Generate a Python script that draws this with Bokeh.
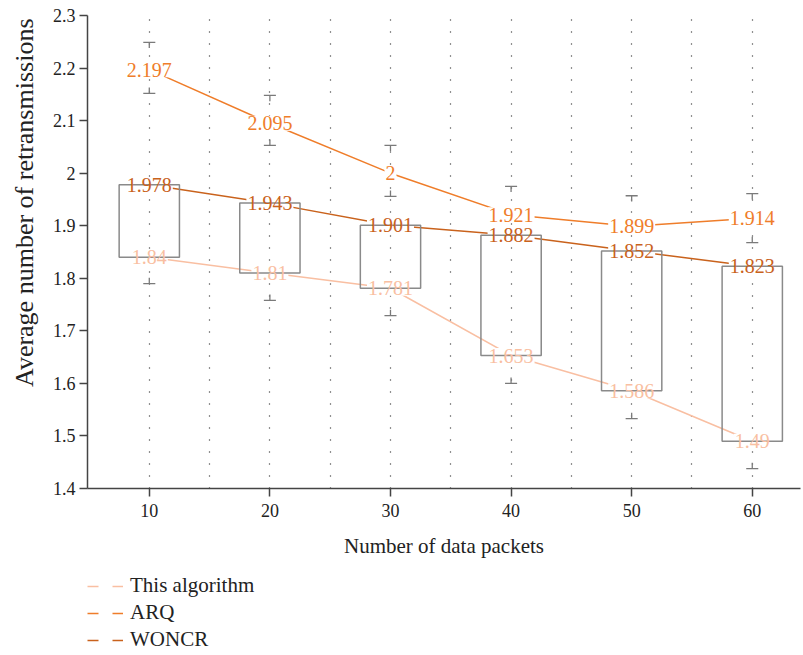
import numpy as np
from bokeh.plotting import figure
from bokeh.layouts import column
from bokeh.models import (Range1d, FixedTicker, Legend, LegendItem, Title,
                          ColumnDataSource)
from bokeh.embed import file_html
from bokeh.resources import INLINE
from bokeh.core.properties import value

# ---------------- data ----------------
packets = [10, 20, 30, 40, 50, 60]
this_alg = [1.84, 1.81, 1.781, 1.653, 1.586, 1.49]
arq = [2.197, 2.095, 2.0, 1.921, 1.899, 1.914]
woncr = [1.978, 1.943, 1.901, 1.882, 1.852, 1.823]
this_labels = ["1.84", "1.81", "1.781", "1.653", "1.586", "1.49"]
arq_labels = ["2.197", "2.095", "2", "1.921", "1.899", "1.914"]
woncr_labels = ["1.978", "1.943", "1.901", "1.882", "1.852", "1.823"]
arq_upper = [2.249, 2.148, 2.053, 1.975, 1.957, 1.961]
arq_lower = [2.152, 2.053, 1.956, 1.876, 1.854, 1.868]
this_lower = [1.790, 1.758, 1.729, 1.600, 1.533, 1.438]
y_ticks = [1.4, 1.5, 1.6, 1.7, 1.8, 1.9, 2.0, 2.1, 2.2, 2.3]
y_tick_labels = ["1.4", "1.5", "1.6", "1.7", "1.8", "1.9", "2", "2.1", "2.2", "2.3"]
x_ticks = [10, 20, 30, 40, 50, 60]
grid_x = [10, 15, 20, 25, 30, 35, 40, 45, 50, 55, 60]
series_names = ["This algorithm", "ARQ", "WONCR"]

# ---------------- style ----------------
C_THIS = "#f9bfa2"
C_ARQ = "#ef7d2a"
C_WON = "#c9621c"
C_BOX = "#8a8a8a"
C_CAP = "#7a7a7a"
FONT = "Liberation Serif"
BOX_HALF = 2.5
CAP_HALF = 0.5
STEM = 0.011

p = figure(width=803, height=573, output_backend="svg", toolbar_location=None,
           x_range=Range1d(4.876, 64.0), y_range=Range1d(1.4, 2.3),
           min_border_left=85, min_border_right=3, min_border_top=15,
           min_border_bottom=85)
p.outline_line_color = None
p.background_fill_color = "white"

# grid
p.ygrid.grid_line_color = None
p.xgrid.ticker = FixedTicker(ticks=grid_x)
p.xgrid.grid_line_color = "#222222"
p.xgrid.grid_line_dash = "1 11"
p.xgrid.grid_line_width = 1.2

# axes
for ax in (p.xaxis[0], p.yaxis[0]):
    ax.axis_line_color = "#444444"
    ax.axis_line_width = 1.5
    ax.major_tick_line_color = "#444444"
    ax.major_tick_line_width = 1.5
    ax.major_tick_out = 8
    ax.major_tick_in = 0
    ax.minor_tick_line_color = None
    ax.major_label_text_font = FONT
    ax.major_label_text_font_size = "18px"
    ax.major_label_text_color = "#222222"
    ax.axis_label_text_font = FONT
    ax.axis_label_text_font_style = "normal"
    ax.axis_label_text_color = "#222222"
p.xaxis.ticker = FixedTicker(ticks=x_ticks)
p.yaxis.ticker = FixedTicker(ticks=y_ticks)
p.yaxis.major_label_overrides = {t: s for t, s in zip(y_ticks, y_tick_labels)}
p.xaxis.major_label_standoff = 7
p.yaxis.major_label_standoff = 4
p.xaxis.axis_label = "Number of data packets"
p.xaxis.axis_label_text_font_size = "21px"
p.xaxis.axis_label_standoff = 14

# y axis title, anchored near the top like the reference
p.add_layout(Title(text="Average number of retransmissions", align="right",
                   vertical_align="top", offset=3, standoff=18,
                   text_font=FONT, text_font_size="26px",
                   text_font_style="normal", text_color="#222222"), "left")

# lines
p.line(packets, this_alg, line_color=C_THIS, line_width=1.5)
p.line(packets, arq, line_color=C_ARQ, line_width=1.5)
p.line(packets, woncr, line_color=C_WON, line_width=1.5)

# caps
px = np.array(packets, dtype=float)
au = np.array(arq_upper)
al = np.array(arq_lower)
tl = np.array(this_lower)
for yy, sgn in ((au, -1), (al, 1), (tl, 1)):
    p.segment(x0=px - CAP_HALF, y0=yy, x1=px + CAP_HALF, y1=yy,
              line_color=C_CAP, line_width=1.3)
    p.segment(x0=px, y0=yy, x1=px, y1=yy + sgn * STEM,
              line_color=C_CAP, line_width=1.3)

# label backgrounds
def bg_width(s):
    return sum(10 if ch.isdigit() else 5 for ch in s) + 2

all_x, all_y, all_w = [], [], []
for vals, labs in ((this_alg, this_labels), (arq, arq_labels), (woncr, woncr_labels)):
    for xv, yv, s in zip(packets, vals, labs):
        all_x.append(xv); all_y.append(yv); all_w.append(bg_width(s))
p.rect(x=all_x, y=all_y, width=all_w, height=15, width_units="screen",
       height_units="screen", fill_color="white", line_color=None)

# boxes
p.quad(left=px - BOX_HALF, right=px + BOX_HALF, top=woncr, bottom=this_alg,
       fill_color=None, line_color=C_BOX, line_width=1.5)

# text labels
for vals, labs, col in ((this_alg, this_labels, C_THIS), (arq, arq_labels, C_ARQ),
                        (woncr, woncr_labels, C_WON)):
    src = ColumnDataSource(dict(x=packets, y=vals, t=labs))
    p.text(x="x", y="y", text="t", source=src, text_font=value(FONT),
           text_font_size="20px", text_align="center", text_baseline="middle",
           text_color=col)

# ---------------- legend strip (separate figure below) ----------------
q = figure(width=803, height=82, output_backend="svg", toolbar_location=None,
           x_range=Range1d(0, 1), y_range=Range1d(0, 1),
           x_axis_location=None, y_axis_location=None,
           min_border_left=85, min_border_right=0, min_border_top=0,
           min_border_bottom=0)
q.outline_line_color = None
q.xgrid.grid_line_color = None
q.ygrid.grid_line_color = None

items = []
for name, col in zip(series_names, (C_THIS, C_ARQ, C_WON)):
    r = q.line([np.nan, np.nan], [np.nan, np.nan], line_color=col,
               line_width=1.5, line_dash="11 14")
    items.append(LegendItem(label=name, renderers=[r]))
legend = Legend(items=items, location="top_left", orientation="vertical",
                padding=0, margin=0, spacing=2, glyph_width=36, glyph_height=20,
                label_height=20, label_standoff=7, label_text_font=FONT,
                label_text_font_size="21px", label_text_color="#222222",
                border_line_color=None, background_fill_alpha=0)
q.add_layout(legend)

layout = column(p, q, spacing=0)
open("out.html", "w").write(file_html(layout, INLINE))
